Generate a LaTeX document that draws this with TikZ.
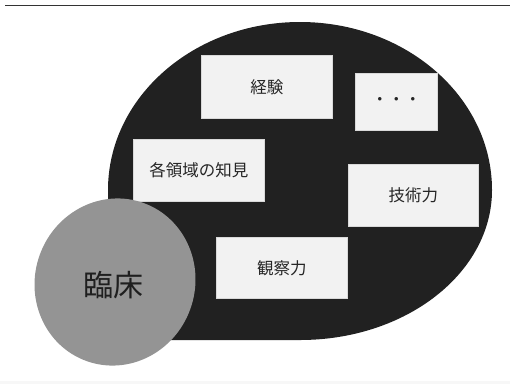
\documentclass[tikz,border=0pt]{standalone}
\usepackage{fontspec}
\newfontfamily\jp{Noto Sans CJK JP}
\begin{document}
\begin{tikzpicture}[x=1pt,y=-1pt,
  itembox/.style={draw=black!15,line width=0.6pt,fill=black!5,inner sep=0pt,anchor=north west,font=\jp\fontsize{16.5}{18}\selectfont,text=black!85},
]
\useasboundingbox (0,0) rectangle (510,384);
\fill[black!3] (0,381) rectangle (510,384);
\coordinate (la) at (5,5);
\coordinate (lb) at (510,5);
\draw[black!80,line width=0.8pt] (la) -- (lb);
% black blob
\fill[black!87] (108,190) arc[start angle=180,end angle=360,x radius=192,y radius=168]
  arc[start angle=0,end angle=90,x radius=192,y radius=150]
  -- (170,340) .. controls (125,340) and (108,260) .. (108,190) -- cycle;
% boxes
\node[itembox,minimum width=131pt,minimum height=63pt] (keiken) at (201,55) {経験};
\node[itembox,minimum width=82pt,minimum height=57pt] (etc) at (355,73) {・・・};
\node[itembox,minimum width=131pt,minimum height=62pt] (chiken) at (133,139) {各領域の知見};
\node[itembox,minimum width=130pt,minimum height=62pt] (gijutsu) at (348,164) {技術力};
\node[itembox,minimum width=131pt,minimum height=61pt] (kansatsu) at (216,237) {観察力};
% gray circle
\fill[black!42,rotate around={-20:(115,282)}] (115,282) ellipse[x radius=80,y radius=84];
\node[font=\jp\fontsize{30}{32}\selectfont,text=black!88] (rinsho) at (113,285) {臨床};
\end{tikzpicture}
\end{document}
